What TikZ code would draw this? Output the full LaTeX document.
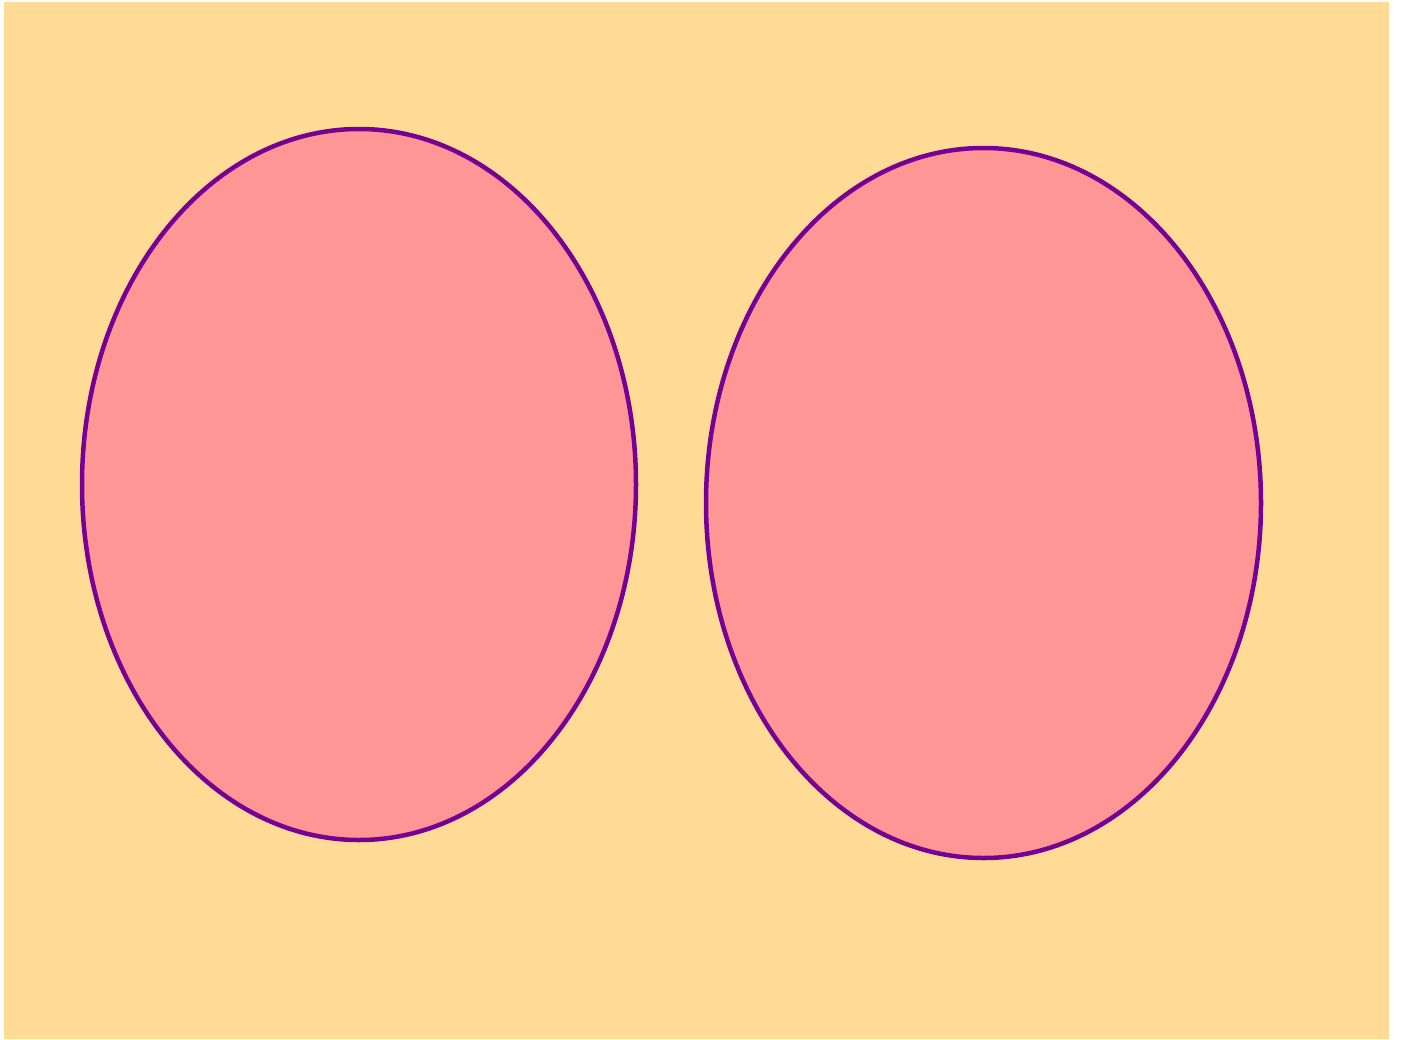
\documentclass[tikz,border=0pt]{standalone}
\definecolor{bgY}{RGB}{255,219,149}
\definecolor{pinkF}{RGB}{255,150,150}
\definecolor{purpL}{RGB}{118,0,148}
\begin{document}
\begin{tikzpicture}[x=1pt,y=-1pt,
  blob/.style={draw=purpL,fill=pinkF,line width=4.5pt}]
\useasboundingbox (0,0) rectangle (1403,1039);
\fill[bgY] (4,2) rectangle (1389,1039);
\draw[blob] (359,484.5) ellipse [x radius=277, y radius=355.5];
\draw[blob] (983.5,503) ellipse [x radius=277.5, y radius=355];
\end{tikzpicture}
\end{document}
